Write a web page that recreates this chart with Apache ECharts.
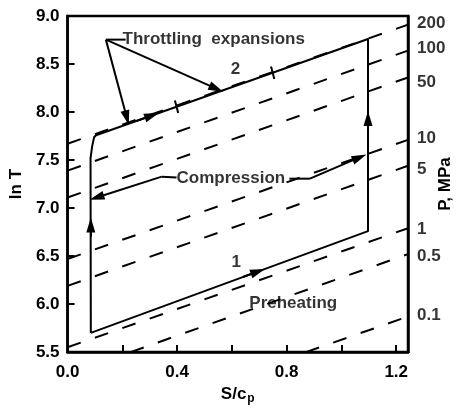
<!DOCTYPE html>
<html>
<head>
<meta charset="UTF-8">
<title>ln T - S/cp</title>
<script src="https://cdn.jsdelivr.net/npm/echarts@6/dist/echarts.min.js"></script>
<style>
  html, body { margin: 0; padding: 0; background: #fff; }
  #main { width: 468px; height: 410px; }
</style>
</head>
<body>
<div id="main"></div>
<script>
// values
var X_MAX = 1.243;

// cycle outline (S/cp, ln T)
var cycleX = [0.085, 1.097, 1.097, 0.104, 0.097, 0.090, 0.084, 0.085];
var cycleY = [5.70, 6.76, 8.76, 7.758, 7.737, 7.645, 7.52, 5.70];

// isobars (dashed), pressure in MPa
var isobarP = ['200', '100', '50', '10', '5', '1', '0.5', '0.1'];
var isobarFrom = [[0, 7.67], [0, 7.39], [0, 7.11], [0, 6.47], [0, 6.19], [0, 5.55], [0.23, 5.5], [0.87, 5.5]];
var isobarTo = [[X_MAX, 8.91], [X_MAX, 8.64], [X_MAX, 8.36], [X_MAX, 7.71], [X_MAX, 7.44], [X_MAX, 6.79], [X_MAX, 6.52], [X_MAX, 5.87]];
var pLabelY = [8.92, 8.66, 8.31, 7.73, 7.40, 6.78, 6.50, 5.88];

// leader lines without heads
var leaders = [
    [[0.140, 8.754], [0.212, 8.754]],
    [[0.344, 7.327], [0.398, 7.318]],
    [[0.810, 7.306], [0.885, 7.306]]
];

// segments ending with an arrow head
var arrows = [
    [[0.140, 8.754], [0.2165, 7.94]],
    [[0.140, 8.754], [0.543, 8.244]],
    [[0.344, 7.327], [0.1065, 7.11]],
    [[0.885, 7.306], [1.066, 7.528]],
    [[0.25, 7.905], [0.308, 7.964]],
    [[0.64, 6.282], [0.695, 6.339]],
    [[1.097, 7.80], [1.097, 7.932]],
    [[0.085, 6.70], [0.085, 6.823]]
];

// small cross marks on line 2
var crossMarks = [
    [[0.392, 8.12], [0.404, 7.99]],
    [[0.743, 8.475], [0.755, 8.345]]
];

// annotations: [x, y, text, align]
var notes = [
    [0.201, 8.754, 'Throttling  expansions', 'left'],
    [0.613, 8.44, '2', 'center'],
    [0.398, 7.306, 'Compression', 'left'],
    [0.616, 6.433, '1', 'center'],
    [0.824, 6.012, 'Preheating', 'center']
];

var FONT = "'Liberation Sans', Arial, sans-serif";
var black = '#000';

var myChart = echarts.init(document.getElementById('main'));

var series = [];

isobarP.forEach(function (p, i) {
    series.push({
        type: 'line',
        data: [isobarFrom[i], isobarTo[i]],
        showSymbol: false,
        silent: true,
        lineStyle: { color: black, width: 2, type: [14, 15] }
    });
});

series.push({
    type: 'line',
    data: cycleX.map(function (x, i) { return [x, cycleY[i]]; }),
    showSymbol: false,
    silent: true,
    lineStyle: { color: black, width: 2, join: 'round' }
});

leaders.concat(crossMarks).forEach(function (seg) {
    series.push({
        type: 'line',
        data: seg,
        showSymbol: false,
        silent: true,
        lineStyle: { color: black, width: 2 }
    });
});

series.push({
    type: 'lines',
    coordinateSystem: 'cartesian2d',
    silent: true,
    symbol: ['none', 'triangle'],
    symbolSize: [0, [9, 15]],
    lineStyle: { color: black, width: 2, opacity: 1 },
    data: arrows.map(function (seg) { return { coords: seg }; })
});

// pressure labels on the right edge
series.push({
    type: 'scatter',
    silent: true,
    symbolSize: 0,
    clip: false,
    data: isobarP.map(function (p, i) { return [X_MAX, pLabelY[i], p]; }),
    label: {
        show: true,
        position: 'right',
        distance: 9,
        formatter: function (d) { return d.value[2]; },
        color: black,
        fontSize: 17,
        fontWeight: 'bold',
        fontFamily: FONT
    }
});

// text notes in the plot
series.push({
    type: 'scatter',
    silent: true,
    symbolSize: 0,
    data: notes.map(function (n) {
        return {
            value: [n[0], n[1]],
            label: { position: n[3] === 'left' ? 'right' : 'inside', distance: 0, formatter: n[2] }
        };
    }),
    label: {
        show: true,
        color: black,
        fontSize: 17,
        fontWeight: 'bold',
        fontFamily: FONT
    }
});

var option = {
    animation: false,
    backgroundColor: '#fff',
    grid: {
        left: 61, right: 60, top: 16, bottom: 53,
        containLabel: false,
        show: true,
        borderColor: black,
        borderWidth: 2.5
    },
    xAxis: {
        type: 'value',
        min: 0,
        max: X_MAX,
        interval: 0.2,
        name: '{a|S/c}{b|p}',
        nameLocation: 'middle',
        nameGap: 27,
        nameTextStyle: {
            rich: {
                a: { fontSize: 17, fontWeight: 'bold', fontFamily: FONT, color: black },
                b: { fontSize: 12, fontWeight: 'bold', fontFamily: FONT, color: black, padding: [9, 0, 0, 1] }
            }
        },
        axisLine: { show: true, lineStyle: { color: black, width: 2.5 } },
        axisTick: { show: true, inside: true, length: 7, lineStyle: { color: black, width: 2 } },
        splitLine: { show: false },
        axisLabel: {
            margin: 12,
            showMaxLabel: false,
            color: black,
            fontSize: 17,
            fontWeight: 'bold',
            fontFamily: FONT,
            formatter: function (v) {
                var k = v / 0.4;
                if (Math.abs(k - Math.round(k)) < 1e-6 && v <= 1.2001) return v.toFixed(1);
                return '';
            }
        }
    },
    yAxis: [{
        type: 'value',
        min: 5.5,
        max: 9.0,
        interval: 0.5,
        name: 'ln T',
        nameLocation: 'middle',
        nameGap: 34,
        nameRotate: 90,
        nameTextStyle: { fontSize: 17, fontWeight: 'bold', fontFamily: FONT, color: black },
        axisLine: { show: true, lineStyle: { color: black, width: 2.5 } },
        axisTick: { show: true, inside: true, length: 7, lineStyle: { color: black, width: 2 } },
        splitLine: { show: false },
        axisLabel: {
            margin: 8,
            color: black,
            fontSize: 17,
            fontWeight: 'bold',
            fontFamily: FONT,
            formatter: function (v) { return v.toFixed(1); }
        }
    }, {
        type: 'value',
        position: 'right',
        min: 5.5,
        max: 9.0,
        name: 'P, MPa',
        nameLocation: 'middle',
        nameGap: 29,
        nameRotate: 90,
        nameTextStyle: { fontSize: 17, fontWeight: 'bold', fontFamily: FONT, color: black },
        axisLine: { show: true, lineStyle: { color: black, width: 2.5 } },
        axisTick: { show: false },
        axisLabel: { show: false },
        splitLine: { show: false }
    }],
    series: series
};

myChart.setOption(option);
</script>
</body>
</html>
